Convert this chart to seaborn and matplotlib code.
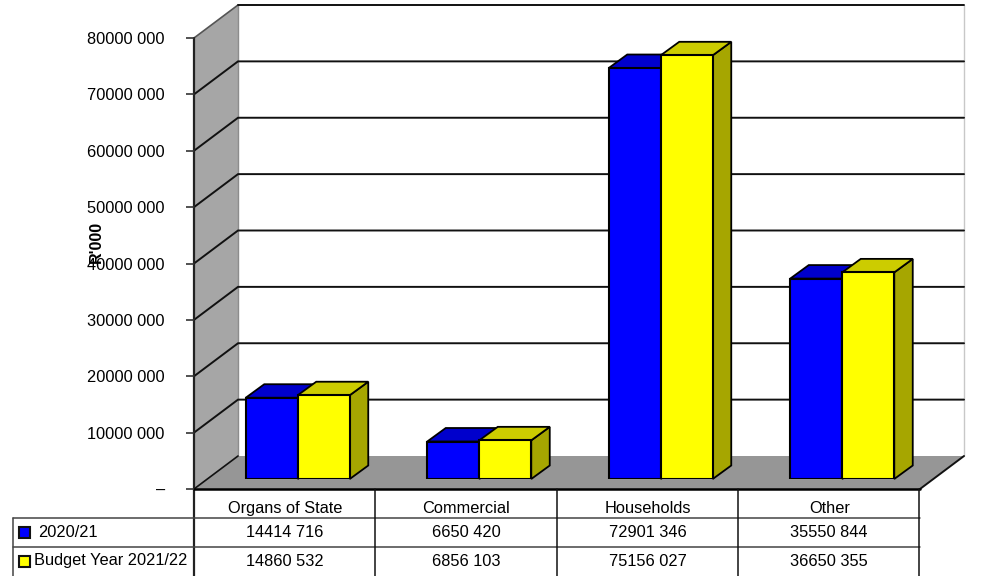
import matplotlib
matplotlib.use("Agg")
import matplotlib.pyplot as plt
from matplotlib.patches import Polygon, Rectangle
import pandas as pd
import seaborn as sns

categories = ["Organs of State", "Commercial", "Households", "Other"]
series_names = ["2020/21", "Budget Year 2021/22"]
values_2021 = [14414716, 6650420, 72901346, 35550844]
values_2122 = [14860532, 6856103, 75156027, 36650355]
y_ticks = [0, 10000000, 20000000, 30000000, 40000000, 50000000, 60000000, 70000000, 80000000]

W, H = 982, 576
FS = 11.8
BLUE, BLUE_TOP, BLUE_SIDE = "#0000FF", "#0000CC", "#0000A6"
YEL, YEL_TOP, YEL_SIDE = "#FFFF00", "#CCCC00", "#A6A600"


def fmt(v):
    if v == 0:
        return "–"
    return f"{v // 1000} {v % 1000:03d}"


def px_axes(left, right, top, bottom):
    return fig.add_axes([left / W, 1 - bottom / H, (right - left) / W, (bottom - top) / H])


sns.set_theme(style="white")
plt.rcParams["font.family"] = ["Liberation Sans"]

df = pd.DataFrame({
    "category": categories * 2,
    "series": [series_names[0]] * 4 + [series_names[1]] * 4,
    "value": values_2021 + values_2122,
})

fig = plt.figure(figsize=(W / 100, H / 100), dpi=100, facecolor="white")

# background in pixel coordinates: walls, floor, table
bg = fig.add_axes([0, 0, 1, 1], zorder=0)
bg.set_xlim(0, W)
bg.set_ylim(H, 0)
bg.axis("off")

bg.add_patch(Polygon([(194, 38), (238, 5), (238, 456), (194, 489)], fc="#A6A6A6", ec="none"))
bg.add_patch(Polygon([(194, 489), (238, 456), (964, 456), (920, 489)], fc="#969696", ec="none"))
bg.plot([964, 964], [5, 456], color="#C8C8C8", lw=1)
bg.plot([238, 238], [5, 456], color="#8C8C8C", lw=1)

step = 451 / 8
for k in range(1, 8):
    yb = 456 - k * step
    yf = 489 - k * step
    bg.plot([194, 238, 964], [yf, yb, yb], color="#111111", lw=1.4, solid_joinstyle="miter")
bg.plot([194, 238], [38, 5], color="#555555", lw=1.2)
bg.plot([238, 964], [5, 5], color="#111111", lw=1.4)
bg.plot([194, 238], [489, 456], color="#111111", lw=1.2)
bg.plot([920, 964], [489, 456], color="#111111", lw=1.4)
bg.plot([194, 194], [38, 576], color="#222222", lw=1.6)
bg.plot([194, 920], [489, 489], color="black", lw=1.8)

# table grid
for yy in [518, 547]:
    bg.plot([13, 920], [yy, yy], color="#444444", lw=1.1)
bg.plot([13, 13], [518, 576], color="#444444", lw=1.1)
for xx in [375.5, 557, 738.5, 919.5]:
    bg.plot([xx, xx], [489, 576], color="#111111", lw=1.1)

row_y = [532.5, 561]
key_y = [532, 561]
for y0, yk, name, vals, col, xt in zip(row_y, key_y, series_names, [values_2021, values_2122], [BLUE, YEL], [38.5, 34.5]):
    bg.add_patch(Rectangle((19.5, yk - 5.5), 11, 11, fc=col, ec="#111111", lw=1.5))
    bg.text(xt, y0, name, ha="left", va="center", fontsize=FS, color="black")
    for i, v in enumerate(vals):
        bg.text(284.5 + i * 181.5, y0, fmt(v), ha="center", va="center", fontsize=FS, color="black")

# front plane: value axis and category labels
front = px_axes(194, 920, 38, 489)
front.patch.set_alpha(0)
front.set_zorder(1)
front.set_xlim(-0.5, 3.5)
front.set_ylim(0, 80000000)
front.set_yticks(y_ticks)
front.set_yticklabels([fmt(v) for v in y_ticks], fontsize=FS, color="black")
front.set_xticks(range(4))
front.set_xticklabels(categories, fontsize=FS, color="black")
front.tick_params(axis="y", length=6, width=1.2, color="#333333", pad=15, left=True)
front.tick_params(axis="x", length=0, pad=8.5)
for s in front.spines.values():
    s.set_visible(False)
front.text(96, 242, "R'000", transform=bg.transData, rotation=90, ha="center", va="center",
           fontsize=11.5, fontweight="bold", color="black")

# bars sit a little behind the front plane
ax = px_axes(207, 933, 28, 479)
ax.patch.set_alpha(0)
ax.set_zorder(2)
sns.barplot(data=df, x="category", y="value", hue="series", hue_order=series_names,
            palette=[BLUE, YEL], saturation=1, width=0.573, gap=0, legend=False,
            edgecolor="black", linewidth=1.5, zorder=3, ax=ax)
ax.set_xlim(-0.5, 3.5)
ax.set_ylim(0, 80000000)
ax.axis("off")

dx = 18.5 / 181.5
dy = 13.5 / 451 * 80000000
bars = list(ax.patches)
for n, bar in enumerate(bars):
    x0, w, h = bar.get_x(), bar.get_width(), bar.get_height()
    top_col, side_col = (BLUE_TOP, BLUE_SIDE) if n < 4 else (YEL_TOP, YEL_SIDE)
    ax.add_patch(Polygon([(x0 + w, 0), (x0 + w + dx, dy), (x0 + w + dx, h + dy), (x0 + w, h)],
                         fc=side_col, ec="black", lw=1.3, zorder=2, clip_on=False))
    ax.add_patch(Polygon([(x0, h), (x0 + dx, h + dy), (x0 + w + dx, h + dy), (x0 + w, h)],
                         fc=top_col, ec="black", lw=1.3, zorder=2, clip_on=False))

fig.savefig("out.png", dpi=100)
